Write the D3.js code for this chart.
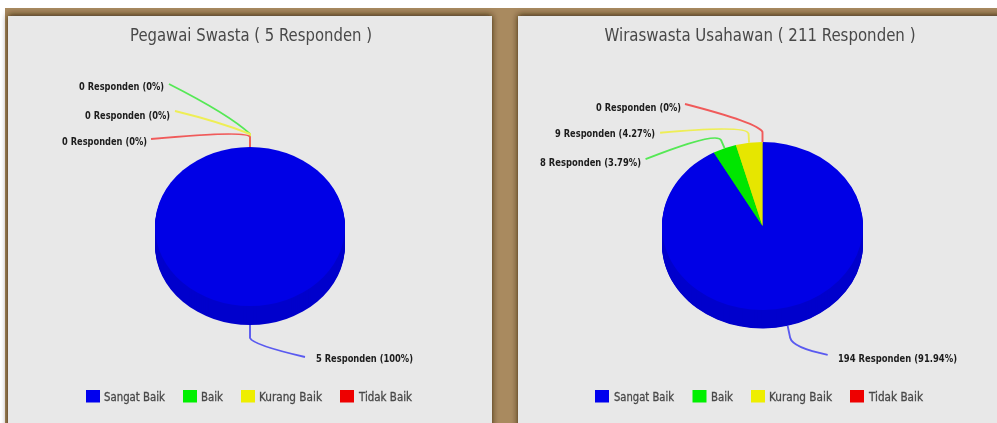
<!DOCTYPE html>
<html>
<head>
<meta charset="utf-8">
<script src="https://cdnjs.cloudflare.com/ajax/libs/d3/7.8.5/d3.min.js"></script>
<style>
html,body{margin:0;padding:0;background:#fff;overflow:hidden}
svg{display:block}
text{font-family:"DejaVu Sans Condensed","DejaVu Sans",sans-serif}
</style>
</head>
<body>
<svg id="chart" width="997" height="423"></svg>
<script>
// Data
const categories = ["Sangat Baik", "Baik", "Kurang Baik", "Tidak Baik"];
const titleSwasta = "Pegawai Swasta ( 5 Responden )";
const titleWiraswasta = "Wiraswasta Usahawan ( 211 Responden )";
const valuesSwasta = [5, 0, 0, 0];
const valuesWiraswasta = [194, 8, 9, 0];

// Styles
const topColors = ["#0000e6", "#00e600", "#e6e600", "#e60000"];
const sideColors = ["#0000cc", "#00cc00", "#cccc00", "#cc0000"];
const legendColors = ["#0000ee", "#00f000", "#eeee00", "#ee0000"];
const leaderColors = ["#5a5af0", "#55e855", "#eeee55", "#f05a5a"];

// Layout of each panel; leader offsets are relative to the slice anchor
const panels = [
  {
    title: titleSwasta, values: valuesSwasta,
    x: 8, width: 484, titleX: 251, titleW: 242,
    cx: 250, cy: 226.5, rx: 95, ry: 79.5, depth: 19,
    labels: [
      {elbow:[0,13], ctrl:[3,20], end:[55,32], x:316, y:358, w:97},
      {elbow:[0,-13], ctrl:[-20,-32], end:[-81,-63], x:164, y:86, w:85, anchor:"end"},
      {elbow:[0,-13], ctrl:[-30,-25], end:[-75,-36], x:170, y:115, w:85, anchor:"end"},
      {elbow:[0,-10], ctrl:[-2,-17], end:[-99,-8], x:147, y:141, w:85, anchor:"end"}
    ],
    legendX: [[86,104,61],[183,201,22],[241,259,63],[340,359,53]]
  },
  {
    title: titleWiraswasta, values: valuesWiraswasta,
    x: 518, width: 479, titleX: 760, titleW: 311,
    cx: 762.5, cy: 226, rx: 100.5, ry: 84, depth: 18.5,
    labels: [
      {elbow:[2.5,12], ctrl:[5,22], end:[40,29], x:838, y:358, w:119},
      {elbow:[-3.5,-8], ctrl:[-8,-17], end:[-79,11], x:641, y:162, w:101, anchor:"end"},
      {elbow:[-0.5,-9], ctrl:[-2,-18], end:[-89,-10], x:655, y:133, w:100, anchor:"end"},
      {elbow:[0,-10], ctrl:[-4,-19], end:[-77.5,-38], x:681, y:107, w:85, anchor:"end"}
    ],
    legendX: [[595,614,60],[692.5,711,22],[751,769,63],[850,869,54]]
  }
];

const svg = d3.select("#chart");
const defs = svg.append("defs");
const shadow = defs.append("filter").attr("id","panelShadow")
  .attr("x","-5%").attr("y","-5%").attr("width","110%").attr("height","110%");
shadow.append("feDropShadow").attr("dx",0).attr("dy",-1).attr("stdDeviation",3)
  .attr("flood-color","#2e1e0c").attr("flood-opacity",0.9);
defs.append("filter").attr("id","soft").attr("x","-5%").attr("y","-5%").attr("width","110%").attr("height","110%")
  .append("feGaussianBlur").attr("stdDeviation",0.55);

svg.append("rect").attr("x",5).attr("y",8).attr("width",992).attr("height",415).attr("fill","#a98a5f");

const pie = d3.pie().sort(null).value(d => d);
const fmt = v => String(+v.toFixed(2));

panels.forEach(p => {
  svg.append("rect")
    .attr("x",p.x).attr("y",16).attr("width",p.width+(p.x>500?20:0)).attr("height",430)
    .attr("fill","#e8e8e8").attr("filter","url(#panelShadow)");

  const g = svg.append("g").attr("filter","url(#soft)");

  g.append("text").attr("x",p.titleX).attr("y",41).attr("text-anchor","middle")
    .attr("font-size",18).attr("fill","#484848")
    .attr("textLength",p.titleW).attr("lengthAdjust","spacingAndGlyphs").text(p.title);

  const total = d3.sum(p.values);
  const slices = pie(p.values);
  const arc = d3.arc().innerRadius(0).outerRadius(p.rx);
  const pieG = g.append("g");

  // Extruded rim, drawn as stacked layers from the bottom up
  d3.range(Math.ceil(p.depth), 0, -1).forEach(off => {
    pieG.append("g")
      .attr("transform",`translate(${p.cx},${p.cy+Math.min(off,p.depth)}) scale(1,${p.ry/p.rx})`)
      .selectAll("path").data(slices.filter(s => s.value>0)).join("path")
      .attr("d",arc).attr("fill",s => sideColors[s.index]);
  });
  pieG.append("g")
    .attr("transform",`translate(${p.cx},${p.cy}) scale(1,${p.ry/p.rx})`)
    .selectAll("path").data(slices.filter(s => s.value>0)).join("path")
    .attr("d",arc).attr("fill",s => topColors[s.index]);

  // Leader lines and labels
  slices.forEach(s => {
    const a = (s.startAngle+s.endAngle)/2;
    const ax = p.cx + p.rx*Math.sin(a);
    const ay = p.cy - p.ry*Math.cos(a) + (Math.cos(a)<0 ? p.depth : 0);
    const l = p.labels[s.index];
    const path = d3.path();
    path.moveTo(ax,ay);
    path.lineTo(ax+l.elbow[0],ay+l.elbow[1]);
    path.quadraticCurveTo(ax+l.ctrl[0],ay+l.ctrl[1],ax+l.end[0],ay+l.end[1]);
    g.append("path").attr("d",path.toString()).attr("fill","none")
      .attr("stroke",leaderColors[s.index]).attr("stroke-width",1.9);
    g.append("text").attr("x",l.x).attr("y",l.y+4)
      .attr("text-anchor",l.anchor||"start")
      .attr("font-size",11).attr("font-weight","bold").attr("fill","#1c1c1c")
      .attr("textLength",l.w).attr("lengthAdjust","spacingAndGlyphs")
      .text(`${s.value} Responden (${fmt(s.value/total*100)}%)`);
  });

  // Legend
  categories.forEach((c,i) => {
    const [sx,tx,tw] = p.legendX[i];
    g.append("rect").attr("x",sx).attr("y",390).attr("width",14).attr("height",12.5)
      .attr("fill",legendColors[i]);
    g.append("text").attr("x",tx).attr("y",401)
      .attr("font-size",12.5).attr("fill","#484848").attr("stroke","#484848").attr("stroke-width",0.3)
      .attr("textLength",tw).attr("lengthAdjust","spacingAndGlyphs").text(c);
  });
});
</script>
</body>
</html>
